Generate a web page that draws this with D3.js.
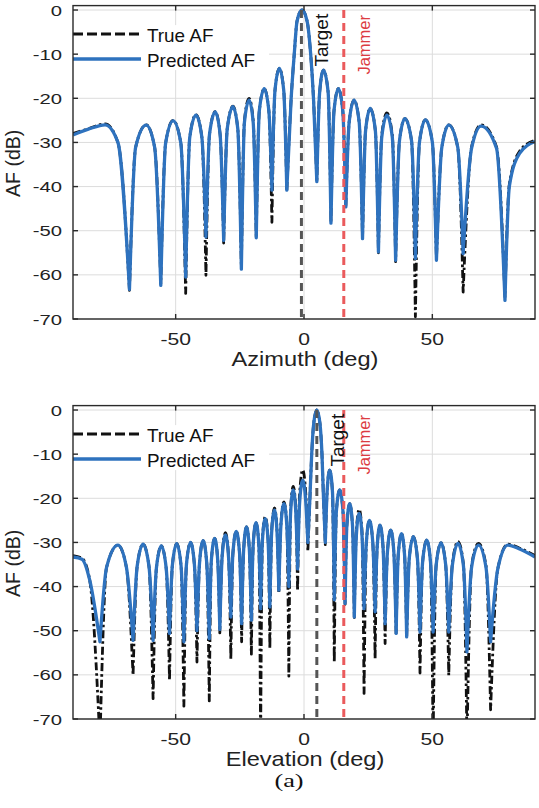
<!DOCTYPE html>
<html>
<head>
<meta charset="utf-8">
<script src="https://cdn.jsdelivr.net/npm/d3@7"></script>
<style>
  body { margin: 0; background: #fff; }
  svg { display: block; }
</style>
</head>
<body>
<script>
// ---- data ----
var xTicks = [-50, 0, 50]
var yTicks = [-70, -60, -50, -40, -30, -20, -10, 0]

// azimuth cut: nulls, lobe shoulders and peaks (deg / dB)
var azDeg = [
  -90, -84, -77.5, -72.5,
  -68, -65.6, -61.5, -58.2,
  -55.8, -53.9, -51.0, -48.0,
  -46.1, -44.5, -42.1, -39.8,
  -38.2, -36.8, -34.6, -32.7,
  -31.3, -29.9, -27.7, -25.8,
  -24.4, -23.2, -21.4, -19.8,
  -18.6, -17.4, -15.5, -13.7,
  -12.5, -11.3, -9.6, -7.9,
  -6.7, -5.0, -3.8, -2.7, -0.8, 1.2, 2.6, 3.7,
  5.0, 6.1, 7.6, 9.4,
  10.5, 11.7, 13.4, 15.1,
  16.3, 17.6, 19.5, 21.5,
  22.8, 24.0, 25.8, 27.8,
  29.0, 30.3, 32.3, 34.4,
  35.7, 37.2, 39.3, 41.9,
  43.4, 45.0, 47.3, 50.0,
  51.6, 53.7, 56.4, 59.9,
  62.0, 65.3, 69.0, 75.0,
  78.3, 80.0, 84.0, 90
]
var azPred = [
  -28.3, -27.0, -26.0, -30.0,
  -63.3, -31.1, -26.1, -31.1,
  -62.4, -30.1, -25.1, -30.1,
  -60.5, -28.8, -23.8, -28.8,
  -51.4, -28.1, -23.1, -28.1,
  -52.2, -26.9, -21.9, -26.9,
  -58.7, -25.4, -20.4, -25.4,
  -51.6, -22.8, -17.8, -22.8,
  -40.8, -18.2, -13.2, -18.2,
  -40.8, -20, -10, -2.5, 0, -2.5, -10, -20,
  -38.9, -18.6, -13.6, -18.6,
  -48.3, -22.8, -17.8, -22.8,
  -44.6, -25.4, -20.4, -25.4,
  -51.8, -27.3, -22.3, -27.3,
  -54.8, -28.8, -23.8, -28.8,
  -56.7, -29.6, -24.6, -29.6,
  -56.3, -29.9, -24.9, -29.9,
  -56.7, -31.1, -26.1, -31.1,
  -55.2, -31.3, -26.3, -31.3,
  -65.8, -40.0, -32.5, -29.8
]
var azTrue = [
  -28.0, -26.9, -25.8, -30.0,
  -63.5, -31.1, -26.0, -31.1,
  -62.0, -30.1, -25.0, -30.1,
  -64.2, -28.8, -23.7, -28.8,
  -60.1, -28.1, -23.0, -28.1,
  -52.8, -26.9, -21.8, -26.9,
  -58.5, -25.0, -20.0, -25.0,
  -51.5, -22.8, -17.8, -22.8,
  -48.1, -18.2, -13.2, -18.2,
  -41.0, -20, -10, -2.5, 0, -2.5, -10, -20,
  -39.0, -18.6, -13.6, -18.6,
  -48.0, -22.8, -17.8, -22.8,
  -44.5, -25.4, -20.4, -25.4,
  -52.0, -27.3, -22.3, -27.3,
  -55.0, -28.3, -23.3, -28.3,
  -57.0, -29.6, -24.6, -29.6,
  -69.5, -29.9, -24.9, -29.9,
  -56.5, -31.1, -26.0, -31.1,
  -63.9, -31.0, -26.0, -31.0,
  -65.0, -39.5, -32.0, -29.5
]

// elevation cut
var elDeg = [
  -90, -86.5, -83.5,
  -79.5, -76.9, -72.5, -69.2,
  -66.6, -65.0, -62.7, -60.4,
  -58.8, -57.5, -55.6, -53.7,
  -52.4, -51.3, -49.6, -47.9,
  -46.8, -45.8, -44.2, -42.7,
  -41.7, -40.7, -39.3, -37.9,
  -36.9, -36.1, -34.8, -33.6,
  -32.8, -31.9, -30.6, -29.4,
  -28.5, -27.7, -26.4, -25.1,
  -24.3, -23.5, -22.4, -21.3,
  -20.5, -19.8, -18.7, -17.6,
  -16.9, -16.2, -15.1, -14.0,
  -13.3, -12.6, -11.5, -10.5,
  -9.8, -9.0, -7.8, -6.7,
  -5.9, -5.2, -4.2, -3.2,
  -2.5, -1.7, -0.5, 0.7,
  1.5, 2.3, 3.0, 3.8, 5.0, 6.2, 7.0, 7.6,
  8.3, 9.0, 10.0, 11.1,
  11.8, 12.6, 13.9, 15.2,
  16.0, 16.7, 17.8, 18.9,
  19.6, 20.4, 21.5, 22.6,
  23.4, 24.3, 25.5, 26.8,
  27.7, 28.5, 29.6, 30.8,
  31.6, 32.5, 33.8, 35.0,
  35.9, 36.7, 38.0, 39.2,
  40.0, 41.0, 42.6, 44.2,
  45.2, 46.2, 47.8, 49.3,
  50.3, 51.5, 53.4, 55.2,
  56.4, 57.8, 60.0, 62.1,
  63.5, 65.3, 68.0, 70.9,
  72.7, 75.5, 79.4, 84.0, 90
]
var elPred = [
  -33.3, -33.8, -38.5,
  -52.5, -35.6, -30.6, -35.6,
  -52.2, -35.4, -30.4, -35.4,
  -52.2, -35.8, -30.8, -35.8,
  -50.6, -35.3, -30.3, -35.3,
  -52.5, -35.0, -30.0, -35.0,
  -50.0, -34.6, -29.6, -34.6,
  -51.8, -34.1, -29.1, -34.1,
  -49.7, -33.3, -28.3, -33.3,
  -46.9, -32.5, -27.5, -32.5,
  -48.4, -31.5, -26.5, -31.5,
  -47.6, -30.5, -25.5, -30.5,
  -45.0, -29.6, -24.6, -29.6,
  -44.6, -27.7, -22.7, -27.7,
  -40.8, -26.2, -21.2, -26.2,
  -40.0, -23.1, -18.1, -23.1,
  -36.0, -20.9, -15.9, -20.9,
  -30.0, -20, -10, -3, 0, -3, -10, -20,
  -30.0, -18.6, -13.6, -18.6,
  -43.0, -23.1, -18.1, -23.1,
  -43.8, -26.2, -21.2, -26.2,
  -46.9, -28.4, -23.4, -28.4,
  -45.0, -30.0, -25.0, -30.0,
  -45.7, -31.1, -26.1, -31.1,
  -48.4, -32.2, -27.2, -32.2,
  -50.6, -33.0, -28.0, -33.0,
  -51.4, -33.7, -28.7, -33.7,
  -50.3, -34.5, -29.5, -34.5,
  -50.3, -35.1, -30.1, -35.1,
  -50.3, -35.2, -30.2, -35.2,
  -54.8, -35.6, -30.6, -35.6,
  -52.5, -36.0, -30.6, -31.5, -33.3
]
var elTrue = [
  -33.0, -33.6, -38.5,
  -75.0, -35.6, -30.6, -35.6,
  -60.1, -35.4, -30.4, -35.4,
  -65.4, -35.8, -30.8, -35.8,
  -61.2, -35.3, -30.3, -35.3,
  -67.1, -35.0, -30.0, -35.0,
  -57.1, -34.6, -29.6, -34.6,
  -65.9, -34.1, -29.1, -34.1,
  -50.5, -33.0, -27.8, -33.0,
  -56.4, -32.5, -27.5, -32.5,
  -52.5, -31.5, -26.5, -31.5,
  -55.3, -30.5, -25.5, -30.5,
  -75.0, -29.2, -24.2, -29.2,
  -54.0, -27.2, -22.2, -27.2,
  -41.5, -25.8, -20.8, -25.8,
  -60.3, -22.3, -17.3, -22.3,
  -41.0, -19.0, -13.6, -19.0,
  -32.0, -20, -10, -3, 0, -3, -10, -20,
  -30.5, -18.6, -13.6, -18.6,
  -57.1, -23.1, -18.1, -23.1,
  -44.0, -26.2, -21.2, -26.2,
  -47.0, -27.5, -22.5, -27.5,
  -64.2, -30.0, -25.0, -30.0,
  -56.3, -31.1, -26.1, -31.1,
  -52.9, -32.2, -27.2, -32.2,
  -50.8, -33.0, -28.0, -33.0,
  -51.5, -33.7, -28.7, -33.7,
  -59.6, -34.5, -29.5, -34.5,
  -75.0, -35.1, -30.1, -35.1,
  -60.1, -34.8, -29.8, -34.8,
  -75.0, -35.2, -30.2, -35.2,
  -67.9, -36.0, -30.4, -31.3, -33.0
]

// steering marks (deg)
var azTarget = -1, azJammer = 15.5
var elTarget = 5, elJammer = 15.5

// ---- drawing ----
var W = 539, H = 808
var BLUE = '#2e72be', FONT = '"Liberation Sans", Arial, Helvetica, sans-serif'

var svg = d3.select('body').append('svg')
  .attr('width', W).attr('height', H)
  .style('background-color', '#fff')

panel({ top: 5.6, bottom: 319, deg: azDeg, tru: azTrue, pred: azPred,
        target: azTarget, jammer: azJammer, xlabel: 'Azimuth (deg)', id: 'az' })
panel({ top: 405.6, bottom: 719, deg: elDeg, tru: elTrue, pred: elPred,
        target: elTarget, jammer: elJammer, xlabel: 'Elevation (deg)', id: 'el' })

svg.append('text')
  .attr('transform', 'translate(289,787) scale(1.35,1)')
  .attr('text-anchor', 'middle')
  .style('font-family', '"Liberation Serif", "Times New Roman", serif')
  .style('font-size', '19.5px')
  .attr('fill', '#111')
  .text('(a)')

function lobePath(line, xs, vs){
  // split at every null so each lobe keeps a sharp tip and a round top
  var segs = [], cur = [[xs[0], vs[0]]]
  for (var i = 1; i < xs.length; i++){
    cur.push([xs[i], vs[i]])
    if (i < xs.length - 1 && vs[i] < vs[i-1] && vs[i] < vs[i+1]){
      segs.push(cur)
      cur = [[xs[i], vs[i]]]
    }
  }
  segs.push(cur)
  return segs.map(function(s, k){
    var d = line(s)
    return k ? d.replace(/^M/, 'L') : d
  }).join('')
}

function panel(o){
  var left = 73, right = 535
  var x = d3.scaleLinear().domain([-90, 90]).range([left, right])
  var y = d3.scaleLinear().domain([-70, 1]).range([o.bottom, o.top])
  var g = svg.append('g')

  // grid
  g.selectAll('.gx').data(xTicks).enter().append('line')
    .attr('x1', function(d){ return x(d) }).attr('x2', function(d){ return x(d) })
    .attr('y1', o.top).attr('y2', o.bottom)
    .attr('stroke', '#dcdcdc').attr('stroke-width', 1)
  g.selectAll('.gy').data(yTicks).enter().append('line')
    .attr('x1', left).attr('x2', right)
    .attr('y1', function(d){ return y(d) }).attr('y2', function(d){ return y(d) })
    .attr('stroke', '#dcdcdc').attr('stroke-width', 1)

  // legend background (drawn under the curves, over the grid)
  var ly = o.top + 28.5
  g.append('rect').attr('x', left + 1).attr('y', ly - 9).attr('width', 195).attr('height', 45)
    .attr('fill', '#fff')

  g.append('clipPath').attr('id', 'clip-' + o.id)
    .append('rect').attr('x', left).attr('y', o.top)
    .attr('width', right - left).attr('height', o.bottom - o.top)

  var line = d3.line()
    .x(function(d){ return x(d[0]) })
    .y(function(d){ return y(d[1]) })
    .curve(d3.curveMonotoneX)

  var curves = g.append('g').attr('clip-path', 'url(#clip-' + o.id + ')')
  curves.append('path')
    .attr('d', lobePath(line, o.deg, o.tru))
    .attr('fill', 'none').attr('stroke', '#111').attr('stroke-width', 2.8)
    .attr('stroke-dasharray', '8,3,2.5,3').attr('stroke-linejoin', 'round')
  curves.append('path')
    .attr('d', lobePath(line, o.deg, o.pred))
    .attr('fill', 'none').attr('stroke', BLUE).attr('stroke-width', 3.3)
    .attr('stroke-linejoin', 'round')

  // target / jammer markers
  curves.append('line')
    .attr('x1', x(o.target)).attr('x2', x(o.target)).attr('y1', y(0)).attr('y2', o.bottom)
    .attr('stroke', '#555').attr('stroke-width', 3).attr('stroke-dasharray', '8,5')
  curves.append('line')
    .attr('x1', x(o.jammer)).attr('x2', x(o.jammer)).attr('y1', y(0)).attr('y2', o.bottom)
    .attr('stroke', '#ea5a5c').attr('stroke-width', 3).attr('stroke-dasharray', '8,5')

  g.append('text')
    .attr('transform', 'translate(' + (x(o.target) + 27) + ',' + (o.top + 61) + ') rotate(-90)')
    .style('font-family', FONT).style('font-size', '19px').attr('fill', '#111')
    .text('Target')
  g.append('text')
    .attr('transform', 'translate(' + (x(o.jammer) + 26) + ',' + (o.top + 69) + ') rotate(-90)')
    .style('font-family', FONT).style('font-size', '16.5px').attr('fill', '#dc3c42')
    .text('Jammer')

  // legend
  g.append('line').attr('x1', left).attr('x2', left + 68).attr('y1', ly).attr('y2', ly)
    .attr('stroke', '#111').attr('stroke-width', 3).attr('stroke-dasharray', '10,4')
  g.append('line').attr('x1', left).attr('x2', left + 68).attr('y1', ly + 25).attr('y2', ly + 25)
    .attr('stroke', BLUE).attr('stroke-width', 3.5)
  g.append('text').attr('transform', 'translate(' + (left + 74) + ',' + (ly + 8) + ') scale(1.05,1)')
    .style('font-family', FONT).style('font-size', '18px').attr('fill', '#111')
    .text('True AF')
  g.append('text').attr('transform', 'translate(' + (left + 74) + ',' + (ly + 33) + ') scale(1.05,1)')
    .style('font-family', FONT).style('font-size', '18px').attr('fill', '#111')
    .text('Predicted AF')

  // box and inward ticks
  var axes = g.append('g').attr('stroke', '#2a2a2a').attr('stroke-width', 1.4).attr('fill', 'none')
  axes.append('rect').attr('x', left).attr('y', o.top)
    .attr('width', right - left).attr('height', o.bottom - o.top)
  yTicks.forEach(function(t){
    axes.append('line').attr('x1', left).attr('x2', left + 5).attr('y1', y(t)).attr('y2', y(t))
    axes.append('line').attr('x1', right).attr('x2', right - 5).attr('y1', y(t)).attr('y2', y(t))
  })
  xTicks.forEach(function(t){
    axes.append('line').attr('x1', x(t)).attr('x2', x(t)).attr('y1', o.bottom).attr('y2', o.bottom - 5)
    axes.append('line').attr('x1', x(t)).attr('x2', x(t)).attr('y1', o.top).attr('y2', o.top + 5)
  })

  // tick labels
  g.selectAll('.ty').data(yTicks).enter().append('text')
    .attr('transform', function(d){ return 'translate(62,' + (y(d) + 5.5) + ') scale(1.35,1)' })
    .attr('text-anchor', 'end')
    .style('font-family', FONT).style('font-size', '15px').attr('fill', '#222')
    .text(function(d){ return d })
  g.selectAll('.tx').data(xTicks).enter().append('text')
    .attr('transform', function(d){ return 'translate(' + x(d) + ',' + (o.bottom + 26) + ') scale(1.32,1)' })
    .attr('text-anchor', 'middle')
    .style('font-family', FONT).style('font-size', '16px').attr('fill', '#222')
    .text(function(d){ return d })

  // axis titles
  g.append('text')
    .attr('transform', 'translate(305,' + (o.bottom + 47) + ') scale(1.18,1)')
    .attr('text-anchor', 'middle')
    .style('font-family', FONT).style('font-size', '20px').attr('fill', '#222')
    .text(o.xlabel)
  g.append('text')
    .attr('transform', 'translate(20,' + ((o.top + o.bottom) / 2 + 1) + ') rotate(-90)')
    .attr('text-anchor', 'middle')
    .style('font-family', FONT).style('font-size', '19.5px').attr('fill', '#222')
    .text('AF (dB)')
}
</script>
</body>
</html>
